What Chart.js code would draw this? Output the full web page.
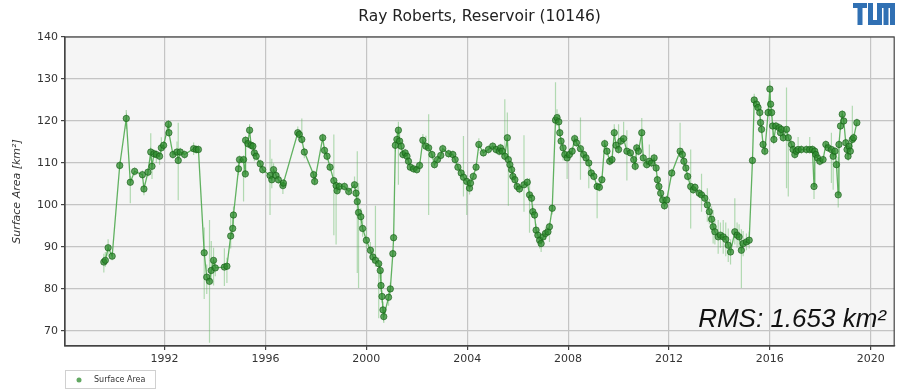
<!DOCTYPE html>
<html lang="en">
<head>
  <meta charset="UTF-8" />
  <title>Ray Roberts, Reservoir (10146)</title>
  <style>
    html, body { margin: 0; padding: 0; background: #fff; }
    #wrap { position: relative; width: 899px; height: 389px; }
  </style>
</head>
<body>
  <div id="wrap">
    <canvas id="areaChart"></canvas>
  </div>

  <script src="https://cdn.jsdelivr.net/npm/chart.js"></script>
  <script>
    // Acquisition dates (decimal years)
    const years = [
      1989.59, 1989.65, 1989.76, 1989.92, 1990.22, 1990.48, 1990.64, 1990.81, 1991.12, 1991.18,
      1991.34, 1991.45, 1991.50, 1991.58, 1991.67, 1991.80, 1991.87, 1991.96, 1992.15, 1992.17,
      1992.33, 1992.49, 1992.54, 1992.62, 1992.79, 1993.15, 1993.25, 1993.34, 1993.57, 1993.67,
      1993.78, 1993.85, 1993.94, 1994.01, 1994.37, 1994.47, 1994.62, 1994.70,
      1994.73, 1994.93, 1994.97, 1995.13, 1995.20, 1995.21, 1995.30, 1995.37, 1995.43, 1995.50,
      1995.56, 1995.63, 1995.79, 1995.89, 1996.18, 1996.25, 1996.32, 1996.42, 1996.51, 1996.69,
      1996.71, 1997.28, 1997.34, 1997.44, 1997.54, 1997.91, 1997.95, 1998.27, 1998.34, 1998.44,
      1998.56, 1998.71, 1998.80, 1998.84, 1998.93, 1999.13, 1999.30, 1999.53, 1999.59, 1999.64,
      1999.69, 1999.78, 1999.85,
      2000.00, 2000.16, 2000.26, 2000.36, 2000.49, 2000.55, 2000.58, 2000.62, 2000.66, 2000.69,
      2000.88, 2000.95, 2001.05, 2001.08, 2001.15, 2001.21, 2001.27, 2001.32, 2001.38, 2001.45,
      2001.54, 2001.61, 2001.67, 2001.74, 2001.87, 2002.00, 2002.11, 2002.24, 2002.36, 2002.47,
      2002.60, 2002.70, 2002.82, 2002.95, 2003.03, 2003.26, 2003.43, 2003.52, 2003.63, 2003.76,
      2003.85, 2003.98, 2004.09, 2004.13, 2004.24, 2004.35, 2004.46, 2004.64, 2004.84, 2005.01,
      2005.14, 2005.27,
      2005.32, 2005.39, 2005.49, 2005.59, 2005.63, 2005.69, 2005.76, 2005.81, 2005.89, 2005.98,
      2006.07, 2006.25, 2006.38, 2006.47, 2006.55, 2006.60, 2006.67, 2006.73, 2006.80, 2006.87,
      2006.93, 2007.01, 2007.10, 2007.20, 2007.26, 2007.37, 2007.50, 2007.56, 2007.63, 2007.67,
      2007.72, 2007.80, 2007.87, 2007.96, 2008.05, 2008.16, 2008.26, 2008.33, 2008.49, 2008.62,
      2008.71, 2008.82, 2008.92, 2009.02, 2009.15, 2009.24, 2009.34, 2009.45, 2009.54, 2009.65,
      2009.74, 2009.83, 2009.90, 2010.00, 2010.09, 2010.20, 2010.33, 2010.47, 2010.60, 2010.66,
      2010.72, 2010.79, 2010.92, 2010.98, 2011.12, 2011.22, 2011.31, 2011.41, 2011.49, 2011.54,
      2011.60, 2011.67, 2011.75, 2011.82, 2011.91, 2012.11, 2012.44, 2012.53, 2012.59, 2012.67,
      2012.74, 2012.86, 2012.96, 2013.03, 2013.20, 2013.29, 2013.42, 2013.52, 2013.60, 2013.69,
      2013.75, 2013.82, 2013.95, 2014.04, 2014.15, 2014.25, 2014.35, 2014.44, 2014.61, 2014.70,
      2014.78, 2014.87, 2014.94, 2015.07, 2015.18, 2015.31, 2015.38, 2015.47, 2015.53, 2015.60,
      2015.63, 2015.67, 2015.73, 2015.80, 2015.93, 2016.00,
      2016.03, 2016.07, 2016.11, 2016.16, 2016.24, 2016.37, 2016.42, 2016.46, 2016.53, 2016.66,
      2016.73, 2016.86, 2016.92, 2016.99, 2017.05, 2017.12, 2017.25, 2017.45, 2017.58, 2017.69,
      2017.75, 2017.78, 2017.82, 2017.89, 2017.98, 2018.11, 2018.22, 2018.31, 2018.44, 2018.51,
      2018.58, 2018.64, 2018.71, 2018.74, 2018.80, 2018.87, 2018.93, 2019.01, 2019.06, 2019.10,
      2019.14, 2019.19, 2019.27, 2019.32, 2019.45
    ];

    // Surface area [km²]
    const area = [
      86.4, 86.8, 89.8, 87.8, 109.4, 120.6, 105.4, 108.0, 107.2, 103.8,
      107.8, 112.6, 109.2, 112.2, 112.0, 111.6, 113.6, 114.2, 119.2, 117.2,
      112.0, 112.6, 110.6, 112.6, 112.0, 113.4, 113.2, 113.2, 88.6, 82.8,
      81.8, 84.4, 86.8, 85.0, 85.2, 85.4, 92.6, 94.4,
      97.6, 108.6, 110.8, 110.8, 107.4, 115.4, 114.6, 117.8, 114.2, 114.0,
      112.4, 111.6, 109.8, 108.4, 107.0, 106.0, 108.4, 107.0, 106.0, 104.6,
      105.2, 117.2, 116.8, 115.6, 112.6, 107.2, 105.6, 116.0, 113.0, 111.6,
      109.0, 105.8, 104.6, 103.4, 104.4, 104.4, 103.2, 104.8, 102.8, 100.8,
      98.2, 97.2, 94.4,
      91.6, 89.2, 87.6, 86.8, 86.0, 84.4, 80.8, 78.2, 75.0, 73.4,
      78.0, 80.0, 88.4, 92.2, 114.2, 115.6, 117.8, 115.2, 114.0, 112.0,
      112.4, 111.6, 110.4, 109.0, 108.6, 108.4, 109.4, 115.4, 114.0, 113.6,
      112.0, 109.6, 110.8, 111.8, 113.4, 112.2, 112.0, 110.8, 109.0, 107.6,
      106.6, 105.6, 104.0, 105.2, 106.8, 109.0, 114.4, 112.4, 113.2, 114.0,
      113.2, 112.8,
      113.6, 112.8, 111.6, 116.0, 110.8, 109.6, 108.4, 106.8, 106.0, 104.4,
      103.8, 104.8, 105.4, 102.4, 101.6, 98.4, 97.6, 94.0, 92.8, 91.6,
      90.8, 92.4, 93.2, 93.6, 94.8, 99.2, 120.2, 120.8, 119.8, 117.2,
      115.2, 113.6, 112.0, 111.2, 112.0, 112.8, 115.8, 114.8, 113.4, 112.0,
      111.2, 110.0, 107.6, 106.8, 104.4, 104.2, 106.0, 114.6, 112.8, 110.4,
      110.8, 117.2, 114.2, 113.2, 115.2, 115.8, 112.8, 112.4, 110.8, 109.2,
      113.6, 112.8, 117.2, 111.2, 109.6, 110.4, 110.0, 111.2, 108.8, 106.0,
      104.4, 102.8, 101.2, 99.8, 101.2, 107.6, 112.8, 112.0, 110.4, 108.8,
      106.8, 104.4, 103.6, 104.2, 102.8, 102.4, 101.6, 100.0, 98.4, 96.6,
      94.8, 93.6, 92.4, 92.8, 92.4, 91.8, 90.4, 88.8, 93.6, 92.8,
      92.4, 89.2, 90.8, 91.2, 91.6, 110.6, 125.0, 124.0, 123.2, 122.0,
      119.6, 118.0, 114.4, 112.8, 122.0, 127.6,
      124.0, 122.0, 118.8, 115.6, 118.8, 118.4, 117.2, 118.0, 116.0, 118.0,
      116.0, 114.4, 113.2, 112.0, 112.8, 113.2, 113.2, 113.2, 113.2, 113.2,
      104.4, 112.8, 112.0, 111.2, 110.4, 110.8, 114.4, 113.6, 113.2, 111.6,
      112.8, 109.6, 102.4, 114.4, 118.8, 121.6, 120.0, 114.8, 113.2, 111.6,
      114.0, 112.8, 115.6, 116.0, 119.6
    ];

    // Uncertainty below / above each value [km²]
    const errLow = [
      2.5, 1.5, 2, 1, 1, 2.5, 5, 1, 1, 1.5,
      1, 2, 3, 1, 2, 2, 1.5, 1, 1, 1,
      1, 1, 9.5, 1, 1, 1.5, 1, 1, 11, 4,
      14.6, 3, 6, 2, 4.5, 4, 3, 2,
      3, 1.5, 1, 10, 1, 1, 1, 1, 1, 1,
      2, 1, 1, 1, 9.4, 2, 1.5, 1, 1, 2,
      1, 1, 1, 1, 1.5, 1.5, 1, 1, 1, 1,
      1, 13, 14, 1, 1, 1, 1, 1.5, 2, 17,
      18, 2, 2,
      2, 2, 1.5, 1.5, 13, 2, 1.5, 1.5, 2, 1.5,
      2, 1.5, 1, 1, 1.5, 1.5, 13, 1.5, 1, 1,
      1, 1, 1, 1, 1, 1, 1, 1.5, 1, 16,
      1, 1, 1, 1, 1, 1, 1, 1, 1, 1,
      4.6, 8, 1.5, 1, 1, 1, 1.5, 1, 1, 1,
      1, 1,
      1, 1, 1, 2, 11, 1, 1, 1, 1, 1,
      1, 6.4, 1, 9, 1, 1.5, 1, 1.5, 1, 2,
      2, 1, 1.5, 1, 3.6, 1.5, 1, 2, 2, 1,
      1, 3, 1, 5, 1, 1, 1, 1, 7.4, 1,
      1, 6, 1, 1, 7.6, 1, 1, 1, 1, 1,
      1, 1, 1, 1, 1, 1, 7, 1, 1, 1,
      1, 1, 4, 2, 1, 1, 1, 1, 1, 2,
      1, 1.5, 1, 1, 1, 1, 1, 1, 1, 1,
      1, 10, 1, 1, 1, 4, 1, 4, 3, 3,
      4, 3, 4, 3, 4, 4, 4, 3, 3, 3,
      3, 9, 3, 2, 2, 1, 1.5, 1.5, 1, 1,
      1, 1, 1, 1, 1, 2,
      1, 1, 3, 1, 1, 1, 1, 1, 1, 14,
      14, 1, 1, 1, 1, 1, 1, 1, 1, 1,
      3, 1, 1, 1, 1, 1, 1, 1, 8, 8,
      1, 1, 3, 1, 1, 1, 1, 1, 1, 1,
      1, 1, 1, 1, 1
    ];

    const errHigh = [
      2, 2, 2, 1, 1, 2, 1.5, 1, 1, 1.5,
      1, 4.5, 1, 1, 1, 1, 2.5, 1, 1, 1,
      1, 2.5, 9, 1, 1, 1.5, 1, 1, 6, 3,
      14.6, 7, 3, 2, 4.5, 2, 5, 4,
      2, 1.5, 1, 1, 1, 1, 1, 1.5, 1, 1,
      1, 1, 1, 1, 8.6, 5, 1.5, 1, 1, 1,
      1, 1.5, 1, 5, 1, 1, 1, 1, 1, 1,
      1, 11, 1, 1, 1, 1, 1, 2, 1, 12,
      7, 2, 2,
      3, 2, 2, 13, 1.5, 2, 1.5, 1.5, 2, 2,
      2, 1.5, 1, 1, 1.5, 2, 2, 2, 1, 1,
      1, 1, 1, 1, 1, 1, 1, 1.5, 2.5, 8,
      1, 1, 1, 1, 1, 1, 1, 1, 1, 1,
      9.8, 1.5, 1.5, 1, 1, 1, 1.5, 1, 1, 1,
      1, 1,
      1, 1, 13.6, 6, 1, 1, 1, 1, 1, 1,
      1, 11.8, 1, 4, 1, 1.5, 1, 1.5, 1, 1.5,
      1.5, 1, 1.5, 1, 1, 1, 9, 2, 2, 1,
      1, 1, 1, 1, 1, 1, 1, 1, 7.4, 1,
      1, 1, 1, 1, 1, 1, 1, 1, 1, 1,
      1, 2, 1, 6, 1, 4, 5, 1, 1, 1,
      1, 1, 3.5, 1, 1, 4, 1, 1, 1, 1,
      1, 1, 1, 1, 1, 1, 6.8, 1, 1, 1,
      1, 8.8, 1, 1, 1, 5, 1, 4, 3, 3,
      4, 3, 4, 3, 4, 4, 4, 3, 8, 3,
      3, 5, 3, 2, 2, 1, 1.5, 1.5, 1, 1,
      1, 1, 1, 1, 1, 2,
      1, 1, 1, 1, 1, 1, 1, 1, 1, 10,
      1, 1, 1, 1, 1, 3, 1, 1, 3, 1,
      1, 1, 1, 1, 1, 1, 1, 1, 4, 1,
      1, 1, 9, 1, 1, 1, 1, 1, 1, 1,
      1, 1, 8, 1, 1
    ];

    const yearTicks = [1992, 1996, 2000, 2004, 2008, 2012, 2016, 2020];
    const areaTicks = [70, 80, 90, 100, 110, 120, 130, 140];

    const chartTitle = "Ray Roberts, Reservoir (10146)";
    const rmsText = "RMS: 1.653 km²";
    const seriesLabel = "Surface Area";

    // light grey plot background
    const plotBackground = {
      id: "plotBackground",
      beforeDraw(chart) {
        const { ctx, chartArea: a } = chart;
        ctx.save();
        ctx.fillStyle = "#f5f5f5";
        ctx.fillRect(a.left, a.top, a.right - a.left, a.bottom - a.top);
        ctx.restore();
      }
    };

    // vertical error bars under the line
    const errorBars = {
      id: "errorBars",
      beforeDatasetsDraw(chart) {
        const { ctx, chartArea: a, scales } = chart;
        ctx.save();
        ctx.beginPath();
        ctx.rect(a.left, a.top, a.right - a.left, a.bottom - a.top);
        ctx.clip();
        ctx.strokeStyle = "rgba(96, 184, 96, 0.45)";
        ctx.lineWidth = 1.2;
        years.forEach((yr, i) => {
          const x = scales.x.getPixelForValue(yr);
          const y1 = scales.y.getPixelForValue(area[i] - errLow[i]);
          const y2 = scales.y.getPixelForValue(area[i] + errHigh[i]);
          ctx.beginPath();
          ctx.moveTo(x, y1);
          ctx.lineTo(x, y2);
          ctx.stroke();
        });
        ctx.restore();
      }
    };

    // axes box outline
    const frame = {
      id: "frame",
      afterDatasetsDraw(chart) {
        const { ctx, chartArea: a } = chart;
        ctx.save();
        ctx.strokeStyle = "#444";
        ctx.lineWidth = 1.2;
        ctx.strokeRect(a.left, a.top, a.right - a.left, a.bottom - a.top);
        ctx.restore();
      }
    };

    // title, logo, RMS note and legend box
    const decorations = {
      id: "decorations",
      afterDraw(chart) {
        const { ctx, chartArea: a } = chart;
        ctx.save();

        ctx.fillStyle = "#222";
        ctx.font = "15.5px 'DejaVu Sans'";
        ctx.textAlign = "center";
        ctx.textBaseline = "middle";
        ctx.fillText(chartTitle, (a.left + a.right) / 2, 17);

        // TUM logo
        ctx.fillStyle = "#3070b3";
        const lx = 853, ly = 3, h = 22, t = 5;
        ctx.fillRect(lx, ly, 14, t);                // T bar
        ctx.fillRect(lx + 4.5, ly, t, h);           // T stem
        ctx.fillRect(lx + 15, ly, t, h);            // U left
        ctx.fillRect(lx + 15, ly + h - t, 14, t);   // U bottom
        ctx.fillRect(lx + 24, ly, t, h);            // U right / M left
        ctx.fillRect(lx + 24, ly, 18, t);           // M top
        ctx.fillRect(lx + 30.5, ly, t, h);          // M middle
        ctx.fillRect(lx + 37, ly, t, h);            // M right

        ctx.fillStyle = "#111";
        ctx.font = "italic 26px 'Liberation Sans'";
        ctx.textAlign = "right";
        ctx.textBaseline = "alphabetic";
        ctx.fillText(rmsText, 886, 327);

        // legend
        ctx.strokeStyle = "#d0d0d0";
        ctx.lineWidth = 1;
        ctx.fillStyle = "#fff";
        ctx.fillRect(65.5, 370.5, 90, 18);
        ctx.strokeRect(65.5, 370.5, 90, 18);
        ctx.fillStyle = "rgba(46, 139, 46, 0.75)";
        ctx.beginPath();
        ctx.arc(79, 380, 2.5, 0, Math.PI * 2);
        ctx.fill();
        ctx.fillStyle = "#333";
        ctx.font = "8px 'DejaVu Sans'";
        ctx.textAlign = "left";
        ctx.textBaseline = "middle";
        ctx.fillText(seriesLabel, 94, 380);

        ctx.restore();
      }
    };

    const points = years.map((yr, i) => ({ x: yr, y: area[i] }));

    new Chart(document.getElementById("areaChart"), {
      type: "line",
      data: {
        datasets: [{
          label: seriesLabel,
          data: points,
          borderColor: "rgba(80, 170, 80, 0.9)",
          borderWidth: 1.3,
          pointRadius: 3.2,
          pointBackgroundColor: "rgba(46, 139, 46, 0.75)",
          pointBorderColor: "rgba(25, 95, 25, 0.8)",
          pointBorderWidth: 0.8,
          tension: 0
        }]
      },
      options: {
        responsive: true,
        maintainAspectRatio: false,
        animation: false,
        devicePixelRatio: 1,
        layout: { padding: { top: 37, left: 0, right: 3, bottom: 0 } },
        plugins: {
          legend: { display: false },
          tooltip: { enabled: false }
        },
        scales: {
          x: {
            type: "linear",
            min: 1988.05,
            max: 2020.93,
            afterBuildTicks: (scale) => {
              scale.ticks = yearTicks.map(v => ({ value: v }));
            },
            afterFit: (scale) => { scale.height = 43; },
            grid: { color: "#c4c4c4", lineWidth: 1.2, tickLength: 4, tickColor: "#444" },
            border: { color: "#444", width: 1.2 },
            ticks: {
              color: "#333",
              font: { family: "DejaVu Sans", size: 11 },
              padding: 3,
              maxRotation: 0,
              callback: (v) => String(v)
            }
          },
          y: {
            min: 66.4,
            max: 140,
            afterBuildTicks: (scale) => {
              scale.ticks = areaTicks.map(v => ({ value: v }));
            },
            afterFit: (scale) => { scale.width = 65; },
            grid: { color: "#c4c4c4", lineWidth: 1.2, tickLength: 4, tickColor: "#444" },
            border: { color: "#444", width: 1.2 },
            ticks: {
              color: "#333",
              font: { family: "DejaVu Sans", size: 11 },
              padding: 3
            },
            title: {
              display: true,
              text: "Surface Area [km²]",
              color: "#333",
              font: { family: "DejaVu Sans", size: 11, style: "italic" },
              padding: { top: 11, bottom: 0 }
            }
          }
        }
      },
      plugins: [plotBackground, errorBars, frame, decorations]
    });
  </script>
</body>
</html>
